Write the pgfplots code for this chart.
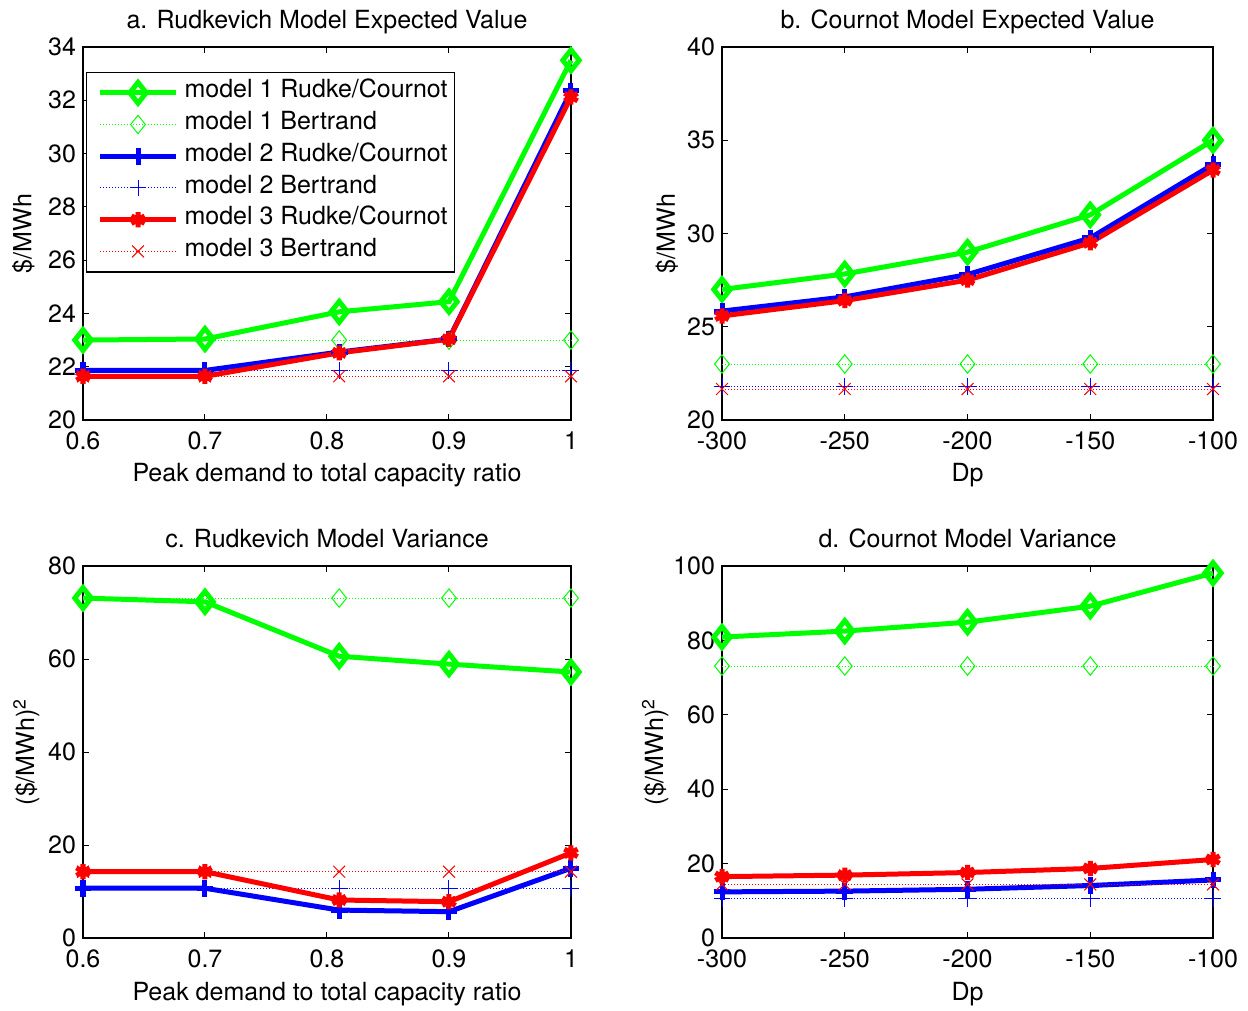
\documentclass[border=0pt]{standalone}
\usepackage{fontspec}
\setmainfont{TeX Gyre Heros}
\usepackage{pgfplots}
\pgfplotsset{compat=1.18}
\definecolor{mg}{rgb}{0,1,0}
\definecolor{mb}{rgb}{0,0,1}
\definecolor{mr}{rgb}{1,0,0}
\newcommand{\fs}{\fontsize{12.5bp}{15bp}\selectfont}
\pgfplotsset{
  mstyle/.style={
    scale only axis, clip=false,
    axis line style={line width=0.6bp},
    every tick/.style={black, line width=0.5bp},
    tick align=inside, major tick length=3bp,
    xtick pos=both, ytick pos=both,
    tick label style={font=\fs},
    /pgf/number format/assume math mode=true,
    xticklabel style={yshift=-2.3bp},
    title style={at={(axis description cs:0.5,1)}, anchor=base, yshift=3.5bp, font=\fs},
    xlabel style={at={(axis description cs:0.5,0)}, anchor=base, yshift=-31bp, font=\fs},
    ylabel style={font=\fs, anchor=base},
    legend image code/.code={\path (0bp,0bp); \draw[mark repeat=2,mark phase=2] plot coordinates {(3.5bp,0bp) (22.5bp,0bp) (41.5bp,0bp)}; \path (43bp,0bp);},
  },
  m1rc/.style={color=mg, line width=2.5bp, mark=diamond, mark size=5.2bp, mark options={solid, mg, xscale=1.05}},
  m1b/.style={color=mg, line width=0.5bp, densely dotted, mark=diamond, mark size=4.6bp, mark options={solid, mg, xscale=1.07}},
  m2rc/.style={color=mb, line width=2.5bp, mark=+, mark size=4.2bp, mark options={solid, mb}},
  m2b/.style={color=mb, line width=0.5bp, densely dotted, mark=+, mark size=4.2bp, mark options={solid, mb}},
  m3rc/.style={color=mr, line width=2.5bp, mark=asterisk, mark size=3.8bp, mark options={solid, mr}},
  m3b/.style={color=mr, line width=0.5bp, densely dotted, mark=x, mark size=4.2bp, mark options={solid, mr}},
}
\begin{document}
\begin{tikzpicture}
\path[use as bounding box] (0bp,0bp) rectangle (624bp,505.5bp);
% ---- panel a
\begin{axis}[mstyle, at={(41.5bp,295.5bp)}, anchor=south west, width=244bp, height=186.5bp,
  xmin=0.6, xmax=1, ymin=20, ymax=34,
  xtick={0.6,0.7,0.8,0.9,1}, xticklabels={0.6,0.7,0.8,0.9,1},
  ytick={20,22,...,34},
  title={a. Rudkevich Model Expected Value},
  xlabel={Peak demand to total capacity ratio},
  ylabel={\$/MWh}, ylabel style={at={(axis description cs:-0.106,0.5)}},
  legend style={at={(rel axis cs:0.006,0.934)}, anchor=north west, draw=black, line width=0.6bp, fill=white,
    font=\fs, inner xsep=2bp, inner ysep=4bp, row sep=3.3bp,
    nodes={inner sep=1.5bp, text height=0.74em, text depth=0.22em}},
  legend cell align=left,
]
\addplot[m1rc] coordinates {(0.6,23.0) (0.7,23.04) (0.81,24.06) (0.9,24.44) (1,33.5)};
\addlegendentry{model 1 Rudke/Cournot}
\addplot[m1b] coordinates {(0.6,23.0) (0.7,23.0) (0.81,23.0) (0.9,23.0) (1,23.0)};
\addlegendentry{model 1 Bertrand}
\addplot[m2rc] coordinates {(0.6,21.86) (0.7,21.86) (0.81,22.55) (0.9,23.04) (1,32.35)};
\addlegendentry{model 2 Rudke/Cournot}
\addplot[m2b] coordinates {(0.6,21.86) (0.7,21.86) (0.81,21.86) (0.9,21.86) (1,21.86)};
\addlegendentry{model 2 Bertrand}
\addplot[m3rc] coordinates {(0.6,21.64) (0.7,21.64) (0.81,22.52) (0.9,23.03) (1,32.12)};
\addlegendentry{model 3 Rudke/Cournot}
\addplot[m3b] coordinates {(0.6,21.64) (0.7,21.64) (0.81,21.64) (0.9,21.64) (1,21.64)};
\addlegendentry{model 3 Bertrand}
\end{axis}
% ---- panel b
\begin{axis}[mstyle, at={(361bp,295.5bp)}, anchor=south west, width=245.5bp, height=186.5bp,
  xmin=-300, xmax=-100, ymin=20, ymax=40,
  xtick={-300,-250,-200,-150,-100}, xticklabels={-300,-250,-200,-150,-100},
  ytick={20,25,...,40},
  title={b. Cournot Model Expected Value},
  xlabel={Dp},
  ylabel={\$/MWh}, ylabel style={at={(axis description cs:-0.096,0.5)}},
]
\addplot[m1rc] coordinates {(-300,27.0) (-250,27.83) (-200,29.0) (-150,31.0) (-100,35.0)};
\addplot[m1b] coordinates {(-300,23.0) (-250,23.0) (-200,23.0) (-150,23.0) (-100,23.0)};
\addplot[m2rc] coordinates {(-300,25.84) (-250,26.6) (-200,27.8) (-150,29.76) (-100,33.7)};
\addplot[m2b] coordinates {(-300,21.8) (-250,21.8) (-200,21.8) (-150,21.8) (-100,21.8)};
\addplot[m3rc] coordinates {(-300,25.58) (-250,26.4) (-200,27.5) (-150,29.5) (-100,33.4)};
\addplot[m3b] coordinates {(-300,21.66) (-250,21.66) (-200,21.66) (-150,21.66) (-100,21.66)};
\end{axis}
% ---- panel c
\begin{axis}[mstyle, at={(41.5bp,36.5bp)}, anchor=south west, width=244bp, height=186bp,
  xmin=0.6, xmax=1, ymin=0, ymax=80,
  xtick={0.6,0.7,0.8,0.9,1}, xticklabels={0.6,0.7,0.8,0.9,1},
  ytick={0,20,...,80},
  title={c. Rudkevich Model Variance},
  xlabel={Peak demand to total capacity ratio},
  ylabel={(\$/MWh)\textsuperscript{2}}, ylabel style={at={(axis description cs:-0.10,0.5)}},
]
\addplot[m1rc] coordinates {(0.6,73.1) (0.7,72.3) (0.81,60.6) (0.9,58.9) (1,57.2)};
\addplot[m1b] coordinates {(0.6,73.1) (0.7,73.1) (0.81,73.1) (0.9,73.1) (1,73.1)};
\addplot[m2rc] coordinates {(0.6,10.7) (0.7,10.7) (0.81,6.0) (0.9,5.66) (1,15.0)};
\addplot[m2b] coordinates {(0.6,10.7) (0.7,10.7) (0.81,10.7) (0.9,10.7) (1,10.7)};
\addplot[m3rc] coordinates {(0.6,14.26) (0.7,14.26) (0.81,8.17) (0.9,7.8) (1,18.3)};
\addplot[m3b] coordinates {(0.6,14.26) (0.7,14.26) (0.81,14.26) (0.9,14.26) (1,14.26)};
\end{axis}
% ---- panel d
\begin{axis}[mstyle, at={(361bp,36.5bp)}, anchor=south west, width=245.5bp, height=186bp,
  xmin=-300, xmax=-100, ymin=0, ymax=100,
  xtick={-300,-250,-200,-150,-100}, xticklabels={-300,-250,-200,-150,-100},
  ytick={0,20,...,100},
  title={d. Cournot Model Variance},
  xlabel={Dp},
  ylabel={(\$/MWh)\textsuperscript{2}}, ylabel style={at={(axis description cs:-0.12,0.5)}},
]
\addplot[m1rc] coordinates {(-300,80.9) (-250,82.5) (-200,84.9) (-150,89.2) (-100,98.1)};
\addplot[m1b] coordinates {(-300,73.1) (-250,73.1) (-200,73.1) (-150,73.1) (-100,73.1)};
\addplot[m2rc] coordinates {(-300,12.4) (-250,12.6) (-200,13.1) (-150,14.1) (-100,15.6)};
\addplot[m2b] coordinates {(-300,10.7) (-250,10.7) (-200,10.7) (-150,10.7) (-100,10.7)};
\addplot[m3rc] coordinates {(-300,16.5) (-250,16.9) (-200,17.6) (-150,18.7) (-100,21.1)};
\addplot[m3b] coordinates {(-300,14.4) (-250,14.4) (-200,14.4) (-150,14.4) (-100,14.4)};
\end{axis}
\end{tikzpicture}
\end{document}
